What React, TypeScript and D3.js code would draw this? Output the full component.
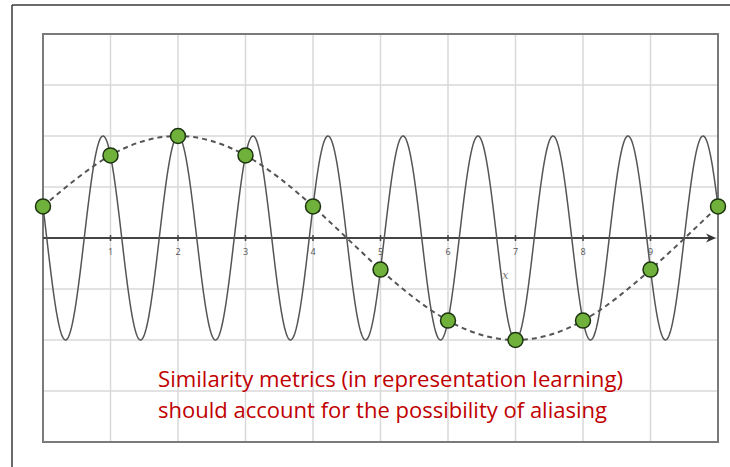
import React from "react";
import * as d3 from "d3";

// Sample positions and the values observed at each integer step
const sampleX = [0, 1, 2, 3, 4, 5, 6, 7, 8, 9, 10];
const sampleY = [0.62, 1.62, 2.0, 1.62, 0.62, -0.62, -1.62, -2.0, -1.62, -0.62, 0.62];

// Fast underlying oscillation: amplitude, frequency (cycles per unit), peak position
const waveAmplitude = 2;
const waveFrequency = 0.9;
const wavePeakAt = 2;

const xTicks = [1, 2, 3, 4, 5, 6, 7, 8, 9];
const xGrid = [1, 2, 3, 4, 5, 6, 7, 8, 9];
const yGrid = [-3, -2, -1, 0, 1, 2, 3];

const captionLines = [
  "Similarity metrics (in representation learning)",
  "should account for the possibility of aliasing",
];

const W = 730;
const H = 467;
const plot = { left: 43, right: 718, top: 34, bottom: 442 };

export default function App() {
  const x = d3.scaleLinear().domain([0, 10]).range([plot.left, plot.right]);
  const y = d3.scaleLinear().domain([-4, 4]).range([plot.bottom, plot.top]);

  const wavePts: [number, number][] = d3.range(0, 10.0001, 0.01).map((t) => [
    t,
    waveAmplitude * Math.cos(2 * Math.PI * waveFrequency * (t - wavePeakAt)),
  ]);
  const waveLine = d3
    .line<[number, number]>()
    .x((d) => x(d[0]))
    .y((d) => y(d[1]));

  const samples = sampleX.map((v, i) => [v, sampleY[i]] as [number, number]);
  const sampleLine = d3
    .line<[number, number]>()
    .x((d) => x(d[0]))
    .y((d) => y(d[1]))
    .curve(d3.curveNatural);

  const y0 = y(0);
  const axisEnd = plot.right - 2;

  return (
    <svg
      width={W}
      height={H}
      style={{ position: "absolute", left: 0, top: 0, background: "#fff" }}
    >
      {/* outer frame */}
      <line x1={12} y1={5} x2={W} y2={5} stroke="#3a3a3a" strokeWidth={1.5} />
      <line x1={12} y1={5} x2={12} y2={H} stroke="#3a3a3a" strokeWidth={1.5} />

      {/* grid */}
      {xGrid.map((g) => (
        <line key={"vx" + g} x1={x(g)} x2={x(g)} y1={plot.top} y2={plot.bottom} stroke="#d9d9d9" strokeWidth={1.5} />
      ))}
      {yGrid.map((g) => (
        <line key={"hy" + g} x1={plot.left} x2={plot.right} y1={y(g)} y2={y(g)} stroke="#d9d9d9" strokeWidth={1.5} />
      ))}

      {/* plot border */}
      <rect
        x={plot.left}
        y={plot.top}
        width={plot.right - plot.left}
        height={plot.bottom - plot.top}
        fill="none"
        stroke="#7a7a7a"
        strokeWidth={2}
      />

      {/* x axis */}
      <line x1={plot.left} x2={axisEnd - 6} y1={y0} y2={y0} stroke="#444" strokeWidth={2} />
      <path
        d={`M${axisEnd},${y0} L${axisEnd - 10},${y0 - 4.5} L${axisEnd - 7},${y0} L${axisEnd - 10},${y0 + 4.5} Z`}
        fill="#333"
      />
      {xTicks.map((t) => (
        <g key={"t" + t}>
          <line x1={x(t)} x2={x(t)} y1={y0 - 3} y2={y0 + 3} stroke="#444" strokeWidth={1.5} />
          <text
            x={x(t)}
            y={y0 + 17}
            textAnchor="middle"
            fontFamily="Open Sans, sans-serif"
            fontSize={9}
            fill="#555"
          >
            {t}
          </text>
        </g>
      ))}
      <text
        x={x(6.85)}
        y={y0 + 41}
        textAnchor="middle"
        fontFamily="DejaVu Serif, serif"
        fontStyle="italic"
        fontSize={11}
        fill="#777"
      >
        x
      </text>

      {/* fast oscillation */}
      <path d={waveLine(wavePts) || ""} fill="none" stroke="#555" strokeWidth={1.5} />

      {/* curve through samples */}
      <path
        d={sampleLine(samples) || ""}
        fill="none"
        stroke="#555"
        strokeWidth={2}
        strokeDasharray="5,4"
      />

      {/* sample points */}
      {samples.map((d, i) => (
        <circle
          key={"s" + i}
          cx={x(d[0])}
          cy={y(d[1])}
          r={7.5}
          fill="#6fb13a"
          stroke="#1c3310"
          strokeWidth={1.5}
        />
      ))}

      {/* caption */}
      {captionLines.map((line, i) => (
        <text
          key={"c" + i}
          x={158}
          y={387 + i * 31}
          fontFamily="Open Sans, sans-serif"
          fontSize={21}
          fill="#c00000"
          textLength={i === 0 ? 465 : 449}
          lengthAdjust="spacingAndGlyphs"
        >
          {line}
        </text>
      ))}
    </svg>
  );
}
